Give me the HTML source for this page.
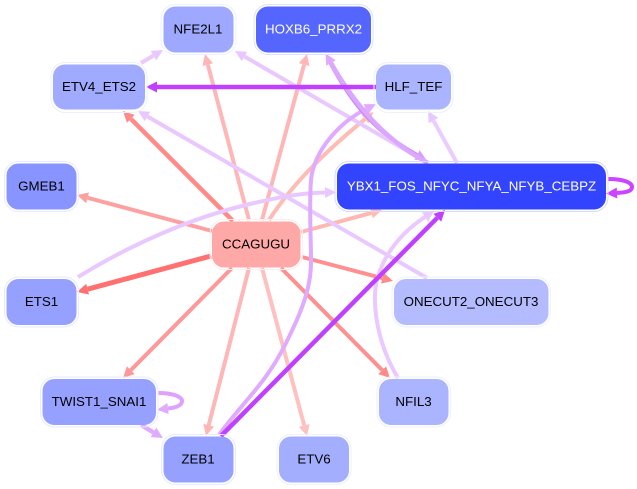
<!DOCTYPE html>
<html><head><meta charset="utf-8"><style>
html,body{margin:0;padding:0;background:#fff;width:637px;height:489px;overflow:hidden}
svg{display:block}
text{font-family:"Liberation Sans",sans-serif;font-size:13.33px;text-anchor:middle;fill:#000}
path.e{fill:none}
</style></head><body>
<svg width="637" height="489" viewBox="0 0 637 489" xmlns="http://www.w3.org/2000/svg">
<defs>
<marker id="a1" markerUnits="userSpaceOnUse" markerWidth="14" markerHeight="12" refX="0" refY="6" orient="auto" overflow="visible"><path d="M0,.5L11,6L0,11.5z" fill="#ff8a8a"/></marker>
<marker id="a2" markerUnits="userSpaceOnUse" markerWidth="14" markerHeight="12" refX="0" refY="6" orient="auto" overflow="visible"><path d="M0,.5L11,6L0,11.5z" fill="#ffb6b6"/></marker>
<marker id="a3" markerUnits="userSpaceOnUse" markerWidth="14" markerHeight="12" refX="0" refY="6" orient="auto" overflow="visible"><path d="M0,.5L11,6L0,11.5z" fill="#ffbcb4"/></marker>
<marker id="a4" markerUnits="userSpaceOnUse" markerWidth="14" markerHeight="12" refX="0" refY="6" orient="auto" overflow="visible"><path d="M0,.5L11,6L0,11.5z" fill="#ffa0a0"/></marker>
<marker id="a5" markerUnits="userSpaceOnUse" markerWidth="14" markerHeight="12" refX="0" refY="6" orient="auto" overflow="visible"><path d="M0,.5L11,6L0,11.5z" fill="#ff7070"/></marker>
<marker id="a6" markerUnits="userSpaceOnUse" markerWidth="14" markerHeight="12" refX="0" refY="6" orient="auto" overflow="visible"><path d="M0,.5L11,6L0,11.5z" fill="#ff9898"/></marker>
<marker id="a7" markerUnits="userSpaceOnUse" markerWidth="14" markerHeight="12" refX="0" refY="6" orient="auto" overflow="visible"><path d="M0,.5L11,6L0,11.5z" fill="#ffc0c0"/></marker>
<marker id="b1" markerUnits="userSpaceOnUse" markerWidth="14" markerHeight="12" refX="0" refY="6" orient="auto" overflow="visible"><path d="M0,.5L11,6L0,11.5z" fill="#c040ff"/></marker>
<marker id="b2" markerUnits="userSpaceOnUse" markerWidth="14" markerHeight="12" refX="0" refY="6" orient="auto" overflow="visible"><path d="M0,.5L11,6L0,11.5z" fill="#e0aaff"/></marker>
<marker id="b3" markerUnits="userSpaceOnUse" markerWidth="14" markerHeight="12" refX="0" refY="6" orient="auto" overflow="visible"><path d="M0,.5L11,6L0,11.5z" fill="#e9c8ff"/></marker>
<marker id="b4" markerUnits="userSpaceOnUse" markerWidth="14" markerHeight="12" refX="0" refY="6" orient="auto" overflow="visible"><path d="M0,.5L11,6L0,11.5z" fill="#cc44ff"/></marker>
<marker id="b5" markerUnits="userSpaceOnUse" markerWidth="14" markerHeight="12" refX="0" refY="6" orient="auto" overflow="visible"><path d="M0,.5L11,6L0,11.5z" fill="#d79cff"/></marker>
</defs>
<rect width="637" height="489" fill="#fff"/>

<!-- edges -->
<g class="edges" stroke-linecap="butt">
<path class="e" d="M233,221L130.8,118.8" stroke="#ff8a8a" stroke-width="4.5" marker-end="url(#a1)"/>
<path class="e" d="M249,220L207.8,64.6" stroke="#ffb6b6" stroke-width="4" marker-end="url(#a2)"/>
<path class="e" d="M262,220L304.1,64.6" stroke="#ffb6b6" stroke-width="4" marker-end="url(#a2)"/>
<path class="e" d="M269,220C295,180 330,148 365,119" stroke="#ffbcb4" stroke-width="4" marker-end="url(#a3)"/>
<path class="e" d="M212,231L87.6,197.8" stroke="#ffa0a0" stroke-width="4" marker-end="url(#a4)"/>
<path class="e" d="M211,256L87.6,289.2" stroke="#ff7070" stroke-width="5" marker-end="url(#a5)"/>
<path class="e" d="M232,268L130.8,370.2" stroke="#ff9898" stroke-width="4" marker-end="url(#a6)"/>
<path class="e" d="M249,268L208.7,425.3" stroke="#ffb6b6" stroke-width="4" marker-end="url(#a2)"/>
<path class="e" d="M262,268L304.2,425.4" stroke="#ffc0c0" stroke-width="4" marker-end="url(#a7)"/>
<path class="e" d="M281,268L382.2,370.2" stroke="#ff9090" stroke-width="4" marker-end="url(#a1)"/>
<path class="e" d="M302,257L382.4,278.2" stroke="#ff9090" stroke-width="4" marker-end="url(#a1)"/>
<path class="e" d="M301,232L371.4,212.9" stroke="#ffb8b0" stroke-width="4" marker-end="url(#a3)"/>

<path class="e" d="M428,163L244.5,56.5" stroke="#e9c8ff" stroke-width="4" marker-end="url(#b3)"/>
<path class="e" d="M427,278L147.5,116.5" stroke="#e9c8ff" stroke-width="4" marker-end="url(#b3)"/>
<path class="e" d="M457,163L433.4,120.6" stroke="#ecccff" stroke-width="4" marker-end="url(#b3)"/>
<path class="e" d="M141,63L153.5,55.6" stroke="#ecc8ff" stroke-width="4" marker-end="url(#b3)"/>
<path class="e" d="M141,425L153.5,432.4" stroke="#e0aaff" stroke-width="4.5" marker-end="url(#b2)"/>
<path class="e" d="M78,277C130,245 190,218 250,204C280,197 300,193 325,192.500" stroke="#e9c8ff" stroke-width="4" marker-end="url(#b3)"/>
<path class="e" d="M398,378C382,352 374,320 375,294C376,268 393,238 425,217" stroke="#ebc8ff" stroke-width="4" marker-end="url(#b3)"/>
<path class="e" d="M219,435C240,405 265,385 285,345C300,315 311,290 311,262C311,235 309,205 311,180C314,150 340,122 366,109" stroke="#e0aaff" stroke-width="4" marker-end="url(#b2)"/>
<path class="e" d="M330,62C350,100 372,130 417,155" stroke="#cc88ff" stroke-width="4" marker-end="url(#b5)"/>
<path class="e" d="M428,163C385,140 355,105 331,63" stroke="#dca8ff" stroke-width="4.5" marker-end="url(#b2)"/>
<path class="e" d="M221,436L437.3,217.8" stroke="#c040ff" stroke-width="4.5" marker-end="url(#b1)"/>
<path class="e" d="M376,87L157,87" stroke="#c040ff" stroke-width="4.5" marker-end="url(#b1)"/>
<path class="e" d="M608,179C625,179 632,183 632,187C632,191 627,192.500 617,193" stroke="#cc44ff" stroke-width="4" marker-end="url(#b4)"/>
<path class="e" d="M158,393C174,393 182,397 182,401C182,405 177,407.500 168,408.500" stroke="#e0a0ff" stroke-width="4" marker-end="url(#b2)"/>
</g>

<!-- nodes -->
<g stroke-width="1" fill="none">
<rect x="161" y="4.500" width="75" height="50" rx="14" stroke="#eef0ff"/>
<rect x="254" y="4.500" width="119" height="50" rx="14" stroke="#dfe2ff"/>
<rect x="51" y="62.500" width="96" height="50" rx="14" stroke="#eef0ff"/>
<rect x="374" y="62.500" width="79" height="50" rx="14" stroke="#eef0ff"/>
<rect x="335" y="161.500" width="273" height="50" rx="14" stroke="#d6daff"/>
<rect x="4.500" y="161.500" width="74" height="50" rx="14" stroke="#e8eaff"/>
<rect x="210" y="219.500" width="92.500" height="50" rx="14" stroke="#ffeeee"/>
<rect x="4.500" y="277" width="74" height="50" rx="14" stroke="#e8eaff"/>
<rect x="392" y="277" width="158.500" height="50" rx="14" stroke="#eff0ff"/>
<rect x="40.500" y="377" width="117.500" height="50" rx="14" stroke="#e8eaff"/>
<rect x="377" y="377" width="73.500" height="50" rx="14" stroke="#eff0ff"/>
<rect x="161.500" y="434.500" width="74" height="50" rx="14" stroke="#e8eaff"/>
<rect x="277" y="434.500" width="74" height="50" rx="14" stroke="#eef0ff"/>
</g>
<g>
<rect x="163.500" y="6.500" width="70" height="46" rx="12" fill="#9ea8ff"/>
<rect x="256" y="6.500" width="115" height="46" rx="12" fill="#5566ff"/>
<rect x="53" y="64.500" width="92" height="45" rx="12" fill="#a0aaff"/>
<rect x="376" y="64.500" width="75" height="45" rx="12" fill="#aab4ff"/>
<rect x="337" y="163.500" width="269" height="46" rx="12" fill="#3344ff"/>
<rect x="6.500" y="163.500" width="70" height="46" rx="12" fill="#8894ff"/>
<rect x="212" y="221.500" width="88.500" height="46" rx="12" fill="#ffa8a8"/>
<rect x="6.500" y="279" width="70" height="46" rx="12" fill="#96a0ff"/>
<rect x="394" y="279" width="154.500" height="46" rx="12" fill="#b4bcff"/>
<rect x="42.500" y="379" width="113.500" height="46" rx="12" fill="#96a0ff"/>
<rect x="379" y="379" width="69.500" height="46" rx="12" fill="#aab4ff"/>
<rect x="163.500" y="436.500" width="70" height="46" rx="12" fill="#96a0ff"/>
<rect x="279" y="436.500" width="70" height="46" rx="12" fill="#a4aeff"/>
</g>

<!-- labels -->
<text x="198" y="33.500">NFE2L1</text>
<text x="313.500" y="33.500" style="fill:#fff">HOXB6_PRRX2</text>
<text x="99" y="91">ETV4_ETS2</text>
<text x="413.500" y="91">HLF_TEF</text>
<text x="471.500" y="190.500" style="fill:#fff">YBX1_FOS_NFYC_NFYA_NFYB_CEBPZ</text>
<text x="41.500" y="190.500">GMEB1</text>
<text x="256" y="248.500">CCAGUGU</text>
<text x="41.500" y="306">ETS1</text>
<text x="471" y="306">ONECUT2_ONECUT3</text>
<text x="99" y="406">TWIST1_SNAI1</text>
<text x="413.500" y="406">NFIL3</text>
<text x="198" y="463.500">ZEB1</text>
<text x="314" y="463.500">ETV6</text>
</svg>
</body></html>
